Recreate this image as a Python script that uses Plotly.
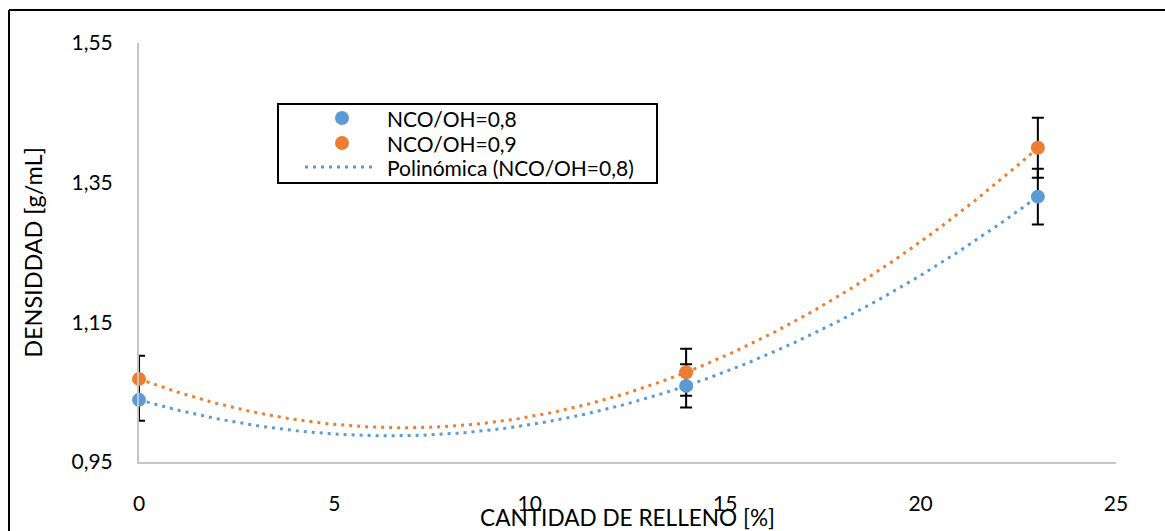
import numpy as np
import plotly.graph_objects as go

# Filler content (%) and measured density (g/mL)
relleno = [0, 14, 23]
dens_08 = [1.039, 1.059, 1.330]
dens_09 = [1.069, 1.0785, 1.400]
err_08 = [0.030, 0.031, 0.040]
err_09 = [0.033, 0.0335, 0.043]

x_ticks = [0, 5, 10, 15, 20, 25]
y_ticks = [0.95, 1.15, 1.35, 1.55]

leyenda = ["NCO/OH=0,8", "NCO/OH=0,9", "Polinómica (NCO/OH=0,8)"]

AZUL = "#5B9BD5"
NARANJA = "#ED7D31"
FONT = "Lato"
DOT = "3px,5px"

# second-order polynomial trendlines over the measured range
xs = np.linspace(min(relleno), max(relleno), 200)
fit_08 = np.polyval(np.polyfit(relleno, dens_08, 2), xs)
fit_09 = np.polyval(np.polyfit(relleno, dens_09, 2), xs)

fig = go.Figure()

fig.add_trace(go.Scatter(x=xs, y=fit_09, mode="lines", name="Polinómica (NCO/OH=0,9)",
                         line=dict(color=NARANJA, width=3, dash=DOT),
                         hoverinfo="skip"))
fig.add_trace(go.Scatter(x=xs, y=fit_08, mode="lines", name=leyenda[2],
                         line=dict(color=AZUL, width=3, dash=DOT),
                         hoverinfo="skip"))

# error bars sit underneath both marker series
for ys, es in ((dens_09, err_09), (dens_08, err_08)):
    fig.add_trace(go.Scatter(x=relleno, y=ys, mode="markers", cliponaxis=False,
                             marker=dict(size=1, opacity=0),
                             error_y=dict(type="data", array=es, visible=True,
                                          color="black", thickness=2, width=6),
                             hoverinfo="skip"))

fig.add_trace(go.Scatter(x=relleno, y=dens_09, mode="markers", name=leyenda[1],
                         cliponaxis=False, marker=dict(size=14, color=NARANJA)))
fig.add_trace(go.Scatter(x=relleno, y=dens_08, mode="markers", name=leyenda[0],
                         cliponaxis=False, marker=dict(size=14, color=AZUL)))

L, R, T, B = 139, 49, 43, 69
W, H = 1165, 531
pw, ph = W - L - R, H - T - B


def px(xp):
    return (xp - L) / pw


def py(yp):
    return (H - B - yp) / ph


# legend box drawn by hand: frame, symbols and labels
shapes = [
    dict(type="rect", xref="paper", yref="paper",
         x0=px(278), x1=px(657), y0=py(183), y1=py(104),
         line=dict(color="black", width=2), fillcolor="white"),
    dict(type="circle", xref="paper", yref="paper",
         x0=px(335), x1=px(349), y0=py(125), y1=py(111),
         line=dict(width=0), fillcolor=AZUL),
    dict(type="circle", xref="paper", yref="paper",
         x0=px(335), x1=px(349), y0=py(150), y1=py(136),
         line=dict(width=0), fillcolor=NARANJA),
    dict(type="line", xref="paper", yref="paper",
         x0=px(305), x1=px(373), y0=py(167), y1=py(167),
         line=dict(color=AZUL, width=3, dash=DOT)),
    # chart-area frame (runs off the right and bottom edges)
    dict(type="line", xref="paper", yref="paper",
         x0=px(9), x1=px(W + 5), y0=py(10), y1=py(10),
         line=dict(color="black", width=2)),
    dict(type="line", xref="paper", yref="paper",
         x0=px(9), x1=px(9), y0=py(10), y1=py(H + 5),
         line=dict(color="black", width=2)),
]

annotations = [
    dict(text=t, xref="paper", yref="paper", x=px(385), y=py(yc),
         xanchor="left", yanchor="middle", showarrow=False,
         font=dict(family=FONT, size=21, color="black"))
    for t, yc in zip(leyenda, (118, 143, 167))
]

fig.update_layout(
    width=W, height=H,
    margin=dict(l=L, r=R, t=T, b=B, autoexpand=False),
    paper_bgcolor="white", plot_bgcolor="white",
    separators=",.",
    showlegend=False,
    font=dict(family=FONT, size=21, color="black"),
    xaxis=dict(range=[0, 25], tickvals=x_ticks, showgrid=False, zeroline=False,
               showline=True, linecolor="#c6c6c6", linewidth=2,
               ticks="outside", ticklen=22, tickcolor="rgba(0,0,0,0)",
               tickfont=dict(family=FONT, size=21),
               title=dict(text="CANTIDAD DE RELLENO [%]", standoff=0,
                          font=dict(family=FONT, size=22.6)),
               automargin=False),
    yaxis=dict(range=[0.95, 1.55], tickvals=y_ticks, tickformat=".2f",
               showgrid=False, zeroline=False,
               showline=True, linecolor="#c6c6c6", linewidth=2,
               ticks="outside", ticklen=20, tickcolor="rgba(0,0,0,0)",
               tickfont=dict(family=FONT, size=21),
               title=dict(text="DENSIDDAD [g/mL]", standoff=22,
                          font=dict(family=FONT, size=23.4)),
               automargin=False),
    shapes=shapes,
    annotations=annotations,
)

fig.write_html("out.html")
